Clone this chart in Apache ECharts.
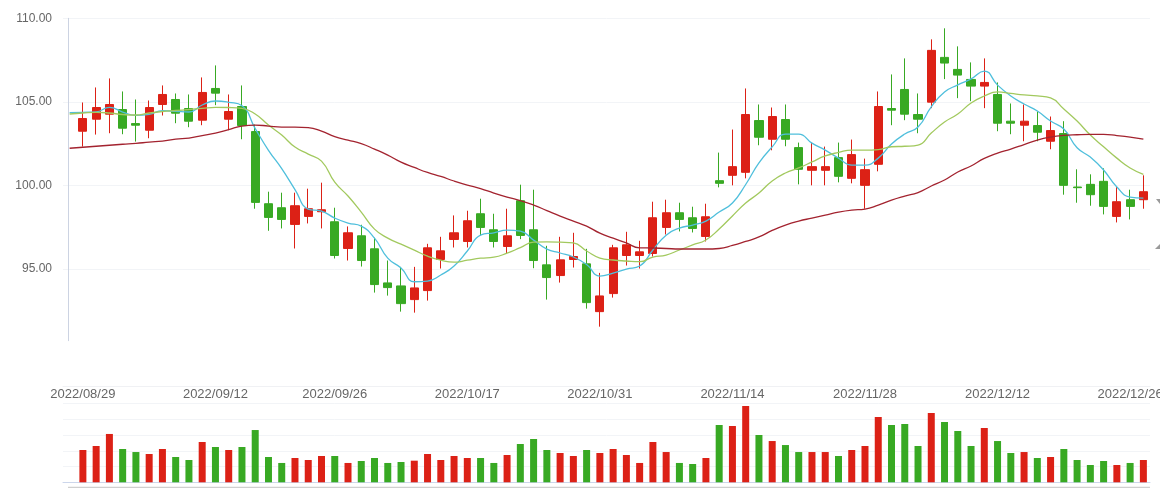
<!DOCTYPE html>
<html>
<head>
<meta charset="utf-8">
<script src="https://cdn.jsdelivr.net/npm/echarts@6/dist/echarts.min.js"></script>
<style>html,body{margin:0;padding:0;background:#fff;}#c{width:1160px;height:488px;}</style>
</head>
<body>
<div id="c"></div>
<script>
const dates = ['2022/08/26',
'2022/08/29','2022/08/30','2022/08/31','2022/09/01','2022/09/02','2022/09/05','2022/09/06','2022/09/07','2022/09/08','2022/09/09',
'2022/09/12','2022/09/13','2022/09/14','2022/09/15','2022/09/16','2022/09/19','2022/09/20','2022/09/21','2022/09/22','2022/09/26',
'2022/09/27','2022/09/28','2022/09/29','2022/09/30','2022/10/10','2022/10/11','2022/10/12','2022/10/13','2022/10/14','2022/10/17',
'2022/10/18','2022/10/19','2022/10/20','2022/10/21','2022/10/24','2022/10/25','2022/10/26','2022/10/27','2022/10/28','2022/10/31',
'2022/11/01','2022/11/02','2022/11/03','2022/11/04','2022/11/07','2022/11/08','2022/11/09','2022/11/10','2022/11/11','2022/11/14',
'2022/11/15','2022/11/16','2022/11/17','2022/11/18','2022/11/21','2022/11/22','2022/11/23','2022/11/24','2022/11/25','2022/11/28',
'2022/11/29','2022/11/30','2022/12/01','2022/12/02','2022/12/05','2022/12/06','2022/12/07','2022/12/08','2022/12/09','2022/12/12',
'2022/12/13','2022/12/14','2022/12/15','2022/12/16','2022/12/19','2022/12/20','2022/12/21','2022/12/22','2022/12/23','2022/12/26',
'2022/12/27'];
const tickLabels = ['2022/08/29','2022/09/12','2022/09/26','2022/10/17','2022/10/31','2022/11/14','2022/11/28','2022/12/12','2022/12/26'];
const yTicks = [95, 100, 105, 110];

const opens = ['-',
103.24,103.96,104.26,104.54,103.70,103.30,104.84,105.14,104.60,103.90,
105.80,103.96,104.72,103.22,98.90,98.66,97.66,98.14,98.42,97.82,
96.22,96.98,96.20,94.16,93.98,93.16,93.70,95.56,96.76,96.64,
98.30,97.34,96.34,99.08,97.34,95.24,94.60,95.56,95.30,92.44,
93.52,95.80,95.80,95.92,97.48,98.36,98.06,96.94,100.28,100.60,
100.78,103.88,102.76,103.94,102.26,100.90,100.90,101.66,100.42,100.00,
101.26,104.60,105.74,104.24,104.98,107.66,106.94,106.34,105.94,105.44,
103.84,103.60,103.58,102.64,103.10,99.90,100.06,100.24,98.14,99.14,
99.14];
const closes = ['-',
104.00,104.66,104.84,103.42,103.60,104.66,105.44,104.32,103.84,105.56,
105.52,104.42,103.58,98.98,98.08,97.96,98.78,98.60,98.54,95.80,
97.16,95.50,94.06,93.88,92.92,93.86,96.26,96.08,97.16,97.88,
97.48,96.64,96.98,97.00,95.50,94.48,95.54,95.74,92.98,93.38,
96.26,96.44,96.02,98.06,98.36,97.96,97.42,98.12,100.12,101.12,
104.24,102.88,104.12,102.76,100.96,101.12,101.12,100.54,101.84,100.94,
104.72,104.50,104.26,103.96,108.08,107.32,106.60,105.94,106.16,103.72,
103.72,103.84,103.18,103.28,100.00,99.86,99.44,98.74,99.02,98.74,
99.62];
const highs = ['-',
104.96,105.86,106.40,105.62,105.14,105.08,105.98,105.50,105.44,106.46,
107.18,105.44,105.98,103.64,99.62,99.56,99.56,99.80,100.16,98.66,
97.54,97.64,96.86,95.50,95.12,95.12,96.50,96.92,98.20,98.48,
99.20,98.30,98.60,100.04,99.74,96.38,96.92,97.16,96.20,94.76,
96.44,97.22,96.68,99.02,99.14,98.96,98.72,98.90,101.96,103.34,
105.80,104.84,104.66,104.84,102.56,102.56,102.32,102.56,102.74,101.60,
105.62,106.64,107.60,105.50,108.74,109.40,108.32,107.36,107.60,106.16,
104.90,104.84,104.42,104.12,103.84,100.96,100.66,101.02,99.92,99.74,
100.60];
const lows = ['-',
102.32,103.04,103.12,103.06,102.62,102.82,104.18,103.72,103.48,103.60,
104.80,103.30,102.76,98.60,97.28,97.42,96.22,97.72,97.42,95.62,
95.50,95.14,93.58,93.40,92.44,92.38,93.10,95.02,96.28,96.28,
97.00,96.28,95.92,96.78,95.04,93.16,94.18,95.08,92.62,91.54,
93.28,95.20,95.02,95.74,97.06,97.24,97.18,96.64,99.88,100.00,
100.42,102.40,102.10,102.34,100.06,100.00,100.00,100.18,100.12,98.60,
100.84,103.60,103.90,103.12,104.62,106.36,105.22,105.04,104.62,103.24,
103.06,102.64,102.64,102.16,99.44,98.96,98.78,98.26,97.78,97.96,
98.60];
const volumes = ['-',
41.1,46.2,61.5,42.4,38.5,36.0,42.4,32.2,28.4,51.3,
44.9,41.1,44.9,66.5,32.2,24.6,30.9,28.4,33.5,33.5,
24.6,27.1,30.9,24.6,25.8,27.5,36.0,28.4,33.5,30.9,
30.9,24.6,34.7,48.7,55.1,41.1,37.3,33.5,41.1,37.3,
42.4,34.7,24.6,51.3,38.5,24.6,23.3,30.9,72.9,71.6,
97.1,60.2,52.5,47.4,38.5,38.5,38.5,33.5,41.1,46.2,
83.1,72.9,74.2,46.2,88.2,76.7,65.3,46.2,69.1,52.5,
37.3,38.5,30.9,32.2,42.4,28.4,22.0,27.1,22.0,24.6,
28.4];
const ma5 = [104.35,
104.37,104.39,104.67,104.39,104.19,104.25,104.47,104.43,104.39,104.81,
105.05,104.97,104.77,103.40,102.10,101.00,99.75,98.58,98.46,98.04,
97.74,97.56,96.84,95.64,95.05,94.23,94.27,94.63,95.17,96.07,
97.02,97.16,97.32,97.26,96.72,96.18,95.95,95.71,95.26,94.57,
94.75,94.99,95.17,96.13,97.02,97.44,97.62,97.86,98.40,98.94,
100.05,101.34,102.30,103.07,103.07,102.53,102.11,101.63,101.21,101.21,
101.63,102.47,103.07,103.49,104.70,105.59,106.01,106.37,106.84,106.00,
105.35,104.87,104.45,103.85,103.37,102.25,101.69,100.92,99.90,99.30,
99.24];
const ma10 = [104.27,
104.33,104.37,104.33,104.24,104.21,104.33,104.42,104.48,104.54,104.61,
104.67,104.66,104.61,104.27,103.61,103.01,102.29,101.87,101.45,100.19,
99.36,98.40,97.38,96.84,96.48,96.12,95.76,95.52,95.40,95.52,
95.64,95.70,95.94,96.27,96.60,96.62,96.60,96.55,96.07,95.65,
95.53,95.47,95.43,95.71,95.83,96.13,96.43,96.73,97.39,98.17,
98.94,99.54,100.26,100.74,101.04,101.40,101.76,101.97,102.11,102.11,
102.14,102.31,102.34,102.41,103.13,103.79,104.27,104.93,105.35,105.59,
105.50,105.41,105.35,105.23,104.57,103.85,103.01,102.31,101.63,101.04,
100.66];
const ma20 = [102.22,
102.28,102.34,102.40,102.46,102.51,102.59,102.65,102.77,102.83,102.98,
103.13,103.34,103.55,103.61,103.55,103.49,103.49,103.46,103.25,102.92,
102.71,102.50,102.17,101.81,101.39,101.07,100.77,100.53,100.26,100.02,
99.81,99.54,99.30,99.09,98.82,98.49,98.16,97.86,97.56,97.14,
96.84,96.55,96.26,96.25,96.22,96.19,96.19,96.19,96.22,96.40,
96.64,96.91,97.30,97.62,97.86,98.04,98.22,98.40,98.52,98.58,
98.82,99.12,99.36,99.57,99.96,100.32,100.80,101.16,101.61,101.93,
102.17,102.44,102.71,102.89,102.99,103.03,103.05,103.05,102.98,102.89,
102.77];

const UP = '#dc2116', DOWN = '#38a923';
const FONT = 'Liberation Sans';

const kData = dates.map((d, i) => opens[i] === '-' ? '-' : [opens[i], closes[i], lows[i], highs[i]]);
const volData = dates.map((d, i) => volumes[i] === '-' ? '-' : {
  value: volumes[i],
  itemStyle: { color: closes[i] >= opens[i] ? UP : DOWN }
});

const chart = echarts.init(document.getElementById('c'), null, { renderer: 'canvas' });
chart.setOption({
  animation: false,
  backgroundColor: '#fff',
  grid: [
    { left: 63, right: 10, top: 18.3, height: 322.4, containLabel: false, outerBoundsMode: 'none' },
    { left: 63, right: 10, top: 403.7, height: 78.6, containLabel: false, outerBoundsMode: 'none' }
  ],
  xAxis: [
    {
      type: 'category', gridIndex: 0, data: dates, boundaryGap: true, offset: 46,
      axisLine: { show: true, lineStyle: { color: '#f0f1f4', width: 1 } },
      axisTick: { show: false },
      splitLine: { show: false },
      axisLabel: {
        interval: (idx, val) => tickLabels.indexOf(val) >= 0,
        fontSize: 13, fontFamily: FONT, color: '#666666', margin: 1,
        hideOverlap: false
      }
    },
    {
      type: 'category', gridIndex: 1, data: dates, boundaryGap: true,
      axisLine: { show: true, lineStyle: { color: '#ccd6eb', width: 1 } },
      axisTick: { show: false },
      axisLabel: { show: false },
      splitLine: { show: false }
    }
  ],
  yAxis: [
    {
      type: 'value', gridIndex: 0, scale: true, min: 90.7, max: 110, splitNumber: 4, offset: -5,
      axisLine: { show: true, lineStyle: { color: '#ccd3e2', width: 1 } },
      axisTick: { show: false },
      axisLabel: {
        showMinLabel: false, margin: 16, fontSize: 12, fontFamily: FONT, color: '#666666',
        formatter: v => yTicks.indexOf(Math.round(v * 100) / 100) >= 0 ? v.toFixed(2) : ''
      },
      splitLine: { show: true, showMinLine: false, lineStyle: { color: '#f2f4f7', width: 1 } }
    },
    {
      type: 'value', gridIndex: 1, min: 0, max: 100, interval: 20,
      axisLine: { show: false }, axisTick: { show: false }, axisLabel: { show: false },
      splitLine: { show: true, lineStyle: { color: '#f2f4f7', width: 1 } }
    }
  ],
  series: [
    {
      type: 'candlestick', name: 'K', xAxisIndex: 0, yAxisIndex: 0, data: kData, barWidth: '65%',
      itemStyle: { color: UP, color0: DOWN, borderColor: UP, borderColor0: DOWN, borderWidth: 1 }
    },
    { type: 'line', name: 'MA5', data: ma5, smooth: true, showSymbol: false, lineStyle: { color: '#4fbfdc', width: 1.3 }, itemStyle: { color: '#4fbfdc' } },
    { type: 'line', name: 'MA10', data: ma10, smooth: true, showSymbol: false, lineStyle: { color: '#a2c95e', width: 1.3 }, itemStyle: { color: '#a2c95e' } },
    { type: 'line', name: 'MA20', data: ma20, smooth: true, showSymbol: false, lineStyle: { color: '#a3232f', width: 1.3 }, itemStyle: { color: '#a3232f' } },
    { type: 'bar', name: 'VOL', xAxisIndex: 1, yAxisIndex: 1, data: volData, barWidth: 7 }
  ],
  graphic: [
    { type: 'polygon', shape: { points: [[1156, 199], [1160, 199], [1160, 204]] }, style: { fill: '#9a9a9a' } },
    { type: 'polygon', shape: { points: [[1160, 244], [1160, 249], [1155, 249]] }, style: { fill: '#9a9a9a' } },
    { type: 'line', shape: { x1: 68, y1: 487.5, x2: 1150, y2: 487.5 }, style: { stroke: '#cfcfcf', lineWidth: 1.5 } }
  ]
});
</script>
</body>
</html>
